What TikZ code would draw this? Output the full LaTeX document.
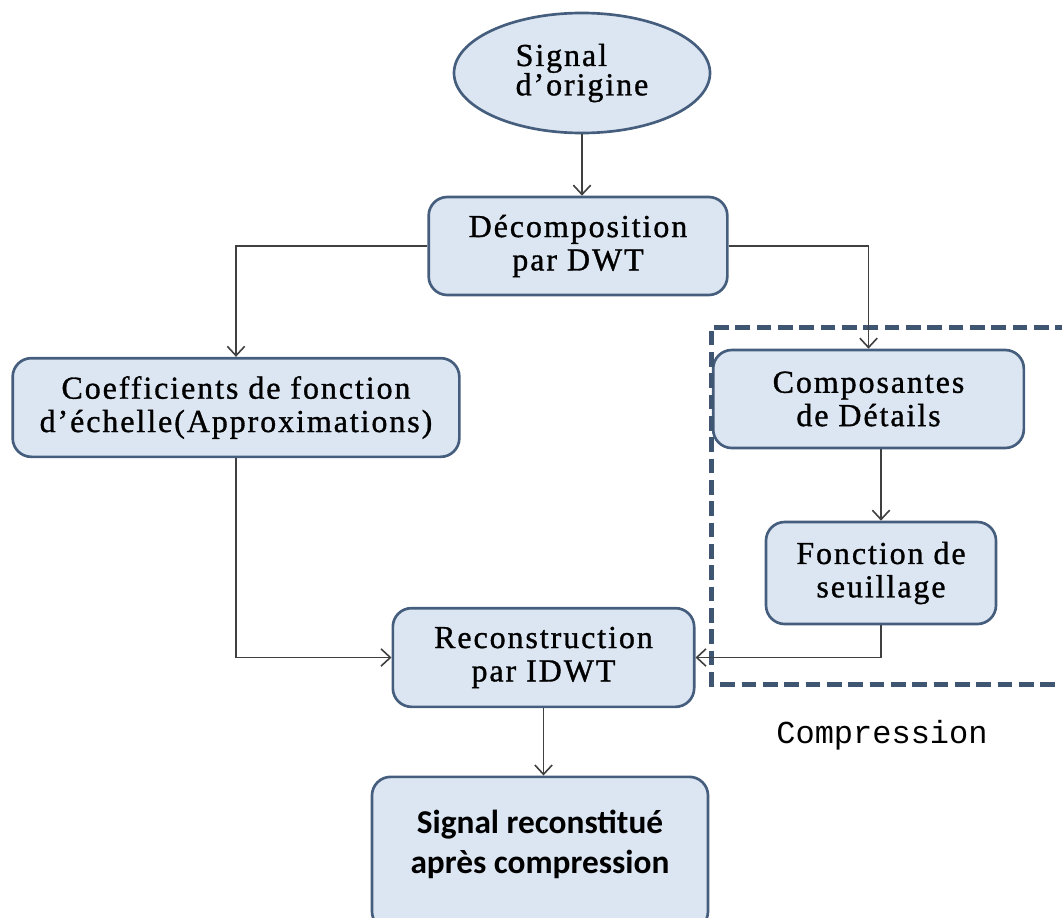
\documentclass[tikz,border=0pt]{standalone}
\usepackage{fontspec}
\setmainfont[LetterSpace=6,FakeBold=1]{Liberation Serif}
\newfontfamily\calibri{Carlito}
\newfontfamily\courier{Liberation Mono}
\usetikzlibrary{shapes.geometric,arrows.meta}
\definecolor{boxfill}{HTML}{DCE6F2}
\definecolor{boxline}{HTML}{465E7E}
\definecolor{dashline}{HTML}{3F5673}
\definecolor{arrline}{HTML}{404040}

\begin{document}
\begin{tikzpicture}[x=0.75pt,y=0.75pt,yscale=-1,xscale=1,
  box/.style={draw=boxline,line width=2pt,fill=boxfill,rounded corners=14pt,align=center,inner sep=0pt,font=\fontsize{24}{25}\selectfont},
  conn/.style={draw=arrline,line width=1.2pt,-{Straight Barb[length=7pt,width=13pt,line width=1.2pt]}}]
\useasboundingbox (0,0) rectangle (1062,917);
\node (orig) at (582,73) [ellipse,draw=boxline,line width=2pt,fill=boxfill,minimum width=192pt,minimum height=90pt,inner sep=0pt,align=left,font=\fontsize{24}{22}\selectfont] {Signal\\d’origine};
\node (dwt) at (578,246) [box,minimum width=224pt,minimum height=73.5pt] {Décomposition\\par DWT};
\node (coef) at (236,407.5) [box,minimum width=335pt,minimum height=74pt] {Coefficients de fonction\\d’échelle(Approximations)};
\node (comp) at (868.5,399) [box,minimum width=233pt,minimum height=73.5pt] {Composantes\\de Détails};
\node (seuil) at (881,573) [box,minimum width=172.5pt,minimum height=76.5pt] {Fonction de\\seuillage};
\node (recon) at (543.5,657.5) [box,minimum width=226pt,minimum height=74pt] {Reconstruction\\par IDWT};
\node (final) at (540,853.5) [box,minimum width=252pt,minimum height=115pt,font=\calibri\bfseries\fontsize{25}{30}\selectfont] {Signal reconstitué\\après compression\\[-12pt]};
\draw [dashline,line width=3.75pt,dash pattern=on 11pt off 5pt] (1070,327) -- (711,327) -- (711,684) -- (1070,684);
\node (complabel) at (882,735) [font=\courier\fontsize{24}{28}\selectfont] {Compression};
\draw [conn] (orig.south) -- (orig.south |- dwt.north);
\draw [conn] (dwt.west) -| (coef.north);
\draw [conn] (dwt.east) -| (comp.north);
\draw [conn] (seuil.north |- comp.south) -- (seuil.north);
\draw [conn] (coef.south) |- (recon.west);
\draw [conn] (seuil.south) |- (recon.east);
\draw [conn] (recon.south) -- (recon.south |- final.north);
\end{tikzpicture}
\end{document}
